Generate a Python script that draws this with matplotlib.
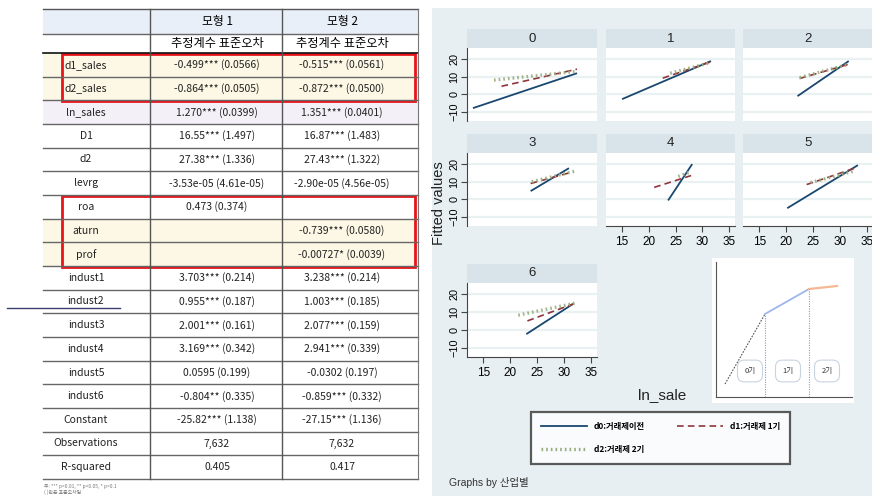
import matplotlib
matplotlib.use('Agg')
import matplotlib.pyplot as plt
from matplotlib.patches import Rectangle
from matplotlib.lines import Line2D

plt.rcParams['font.family'] = ['Noto Sans CJK KR', 'DejaVu Sans']

W, H = 872, 496
NARROW = ['Liberation Sans Narrow', 'Liberation Sans', 'Noto Sans CJK KR']

# ---------------- regression table ----------------
row_names = ['d1_sales', 'd2_sales', 'ln_sales', 'D1', 'd2', 'levrg', 'roa', 'aturn', 'prof',
             'indust1', 'indust2', 'indust3', 'indust4', 'indust5', 'indust6',
             'Constant', 'Observations', 'R-squared']
model1 = ['-0.499*** (0.0566)', '-0.864*** (0.0505)', '1.270*** (0.0399)', '16.55*** (1.497)',
          '27.38*** (1.336)', '-3.53e-05 (4.61e-05)', '0.473 (0.374)', '', '',
          '3.703*** (0.214)', '0.955*** (0.187)', '2.001*** (0.161)', '3.169*** (0.342)',
          '0.0595 (0.199)', '-0.804** (0.335)', '-25.82*** (1.138)', '7,632', '0.405']
model2 = ['-0.515*** (0.0561)', '-0.872*** (0.0500)', '1.351*** (0.0401)', '16.87*** (1.483)',
          '27.43*** (1.322)', '-2.90e-05 (4.56e-05)', '', '-0.739*** (0.0580)',
          '-0.00727* (0.0039)', '3.238*** (0.214)', '1.003*** (0.185)', '2.077*** (0.159)',
          '2.941*** (0.339)', '-0.0302 (0.197)', '-0.859*** (0.332)', '-27.15*** (1.136)',
          '7,632', '0.417']
model_titles = ['모형 1', '모형 2']
sub_title = '추정계수 표준오차'
yellow_rows = ['d1_sales', 'd2_sales', 'aturn', 'prof']
purple_rows = ['ln_sales']
boxed_groups = [['d1_sales', 'd2_sales'], ['roa', 'aturn', 'prof']]
footnotes = ['주: *** p<0.01, ** p<0.05, * p<0.1', '( )안은 표준오차임']

# ---------------- facet chart data ----------------
industries = ['0', '1', '2', '3', '4', '5', '6']
d0_x = [[13.1, 32.4], [15.0, 31.6], [22.1, 31.6], [23.8, 30.9], [23.6, 28.1], [20.2, 33.3], [23.0, 31.6]]
d0_y = [[-7.8, 12.0], [-2.7, 18.9], [-1.0, 18.9], [4.7, 17.7], [-0.6, 20.0], [-5.0, 19.4], [-2.3, 14.5]]
d1_x = [[18.4, 32.4], [22.6, 31.6], [22.5, 31.5], [23.8, 31.5], [21.0, 27.9], [23.8, 33.3], [23.2, 31.8]]
d1_y = [[4.6, 14.3], [9.2, 18.5], [9.0, 17.0], [9.0, 15.5], [6.8, 13.5], [8.4, 18.3], [5.1, 14.7]]
d2_x = [[17.0, 32.2], [24.0, 31.5], [22.5, 31.5], [24.0, 32.0], [25.5, 27.7], [24.5, 32.5], [21.5, 32.0]]
d2_y = [[8.1, 13.0], [12.0, 18.0], [9.5, 17.0], [10.0, 16.0], [13.0, 15.5], [9.5, 16.0], [8.3, 15.0]]
series_labels = ['d0:거래제이전', 'd1:거래제 1기', 'd2:거래제 2기']

# concept inset
concept_x = [9, 49, 93, 121]
concept_y = [13, 83, 108, 111]
period_labels = ['0기', '1기', '2기']
period_x = [34, 72, 111]

C_D0, C_D1, C_D2 = '#1a476f', '#90353b', '#98ad7e'
BG = '#e8eff2'
STRIP = '#d9e4ea'
GRID = '#eaf1f3'

fig = plt.figure(figsize=(W / 100, H / 100), dpi=100)
fig.patch.set_facecolor('white')


def px_axes(x0, y0, x1, y1, **kw):
    return fig.add_axes([x0 / W, 1 - y1 / H, (x1 - x0) / W, (y1 - y0) / H], **kw)


lay = px_axes(0, 0, W, H)
lay.set_xlim(0, W)
lay.set_ylim(H, 0)
lay.axis('off')

# ---- table
tx0, tx1 = 43, 418
col_lines = [150, 282]
label_cx, m1_cx, m2_cx = 86, 217, 342
top, head1, head2 = 9, 34, 53
row_h = (479 - head2) / len(row_names)

lay.add_patch(Rectangle((tx0, top), tx1 - tx0, head1 - top, color='#e9eff8', lw=0))
for i, name in enumerate(row_names):
    y0 = head2 + i * row_h
    if name in yellow_rows:
        lay.add_patch(Rectangle((tx0, y0), tx1 - tx0, row_h, color='#fdf8e5', lw=0))
    elif name in purple_rows:
        lay.add_patch(Rectangle((tx0, y0), tx1 - tx0, row_h, color='#f3f0f7', lw=0))
    yc = y0 + row_h / 2
    lay.text(label_cx, yc, name, ha='center', va='center', fontsize=7.5, color='#222222')
    lay.text(m1_cx, yc, model1[i], ha='center', va='center', fontsize=7.5, color='#222222')
    lay.text(m2_cx, yc, model2[i], ha='center', va='center', fontsize=7.5, color='#222222')
    lay.plot([tx0, tx1], [y0 + row_h, y0 + row_h], color='#666666', lw=1.0)

lay.plot([tx0, tx1], [top, top], color='#555555', lw=1.0)
lay.plot([tx0, tx1], [head1, head1], color='#666666', lw=1.0)
lay.plot([tx0, tx1], [head2, head2], color='#111111', lw=1.2)
for cx in col_lines:
    lay.plot([cx, cx], [top, 479], color='#555555', lw=1.0)
lay.plot([tx1, tx1], [top, 479], color='#777777', lw=0.8)
for cx, title in zip([m1_cx, m2_cx], model_titles):
    lay.text(cx, (top + head1) / 2, title, ha='center', va='center', fontsize=8.5)
    lay.text(cx, (head1 + head2) / 2, sub_title, ha='center', va='center', fontsize=8.8)

for grp in boxed_groups:
    i0 = row_names.index(grp[0])
    i1 = row_names.index(grp[-1])
    y0 = head2 + i0 * row_h
    y1 = head2 + (i1 + 1) * row_h
    lay.add_patch(Rectangle((62, y0 + 1), 353, y1 - y0, fill=False, edgecolor='#e8141a', lw=2.0))

lay.text(44, 486, footnotes[0], fontsize=3.5, color='#777777', va='center')
lay.text(44, 492, footnotes[1], fontsize=3.5, color='#777777', va='center')
lay.plot([7, 120], [308, 308], color='#3b3f70', lw=1.0)

# ---- right graph background
lay.add_patch(Rectangle((432, 8), W - 432, H - 8, color=BG, lw=0))
# inset white card
lay.add_patch(Rectangle((712, 258), 142, 145, color='white', lw=0))

cols_x = [(467, 597), (606, 735), (743, 873)]
rows_y = [(48, 121), (153, 226), (283, 357)]
strip_h = 19

for k, ind in enumerate(industries):
    r, c = divmod(k, 3)
    x0, x1 = cols_x[c]
    y0, y1 = rows_y[r]
    st = px_axes(x0, y0 - strip_h, x1, y0)
    st.set_facecolor(STRIP)
    st.set_xticks([])
    st.set_yticks([])
    for s in st.spines.values():
        s.set_visible(False)
    st.text(0.5, 0.5, ind, ha='center', va='center', fontsize=9.5, family=NARROW,
            transform=st.transAxes, color='#222222')

    ax = px_axes(x0, y0, x1, y1)
    ax.set_facecolor('white')
    ax.plot(d0_x[k], d0_y[k], color=C_D0, lw=1.3, solid_capstyle='butt')
    ax.plot(d1_x[k], d1_y[k], color=C_D1, lw=1.2, dashes=(4, 2.5))
    ax.plot(d2_x[k], d2_y[k], color=C_D2, lw=2.4, dashes=(0.5, 0.9), alpha=0.9)
    ax.set_xlim(12, 36.1)
    ax.set_ylim(-15.1, 26.3)
    ax.set_yticks([-10, 0, 10, 20])
    ax.set_xticks([15, 20, 25, 30, 35])
    ax.grid(axis='y', color=GRID, lw=1.6)
    ax.set_axisbelow(True)
    for s in ax.spines.values():
        s.set_visible(False)
    ax.tick_params(length=4, width=0.8, color='#444444', labelsize=8.5)
    ax.tick_params(axis='y', labelsize=7.8, pad=1.5)
    bottom_panel = (k + 3 >= len(industries))
    if c == 0:
        ax.spines['left'].set_visible(True)
        ax.spines['left'].set_color('#444444')
        for lbl in ax.get_yticklabels():
            lbl.set_rotation(90)
            lbl.set_va('center')
            lbl.set_family(NARROW)
    else:
        ax.tick_params(axis='y', left=False, labelleft=False)
    if bottom_panel:
        ax.spines['bottom'].set_visible(True)
        ax.spines['bottom'].set_color('#444444')
        for lbl in ax.get_xticklabels():
            lbl.set_family(NARROW)
    else:
        ax.tick_params(axis='x', bottom=False, labelbottom=False)

lay.text(439, 203, 'Fitted values', rotation=90, ha='center', va='center',
         fontsize=10.5, family=NARROW, color='#222222')
lay.text(662, 395, 'ln_sale', ha='center', va='center', fontsize=11,
         family=NARROW, color='#222222')
lay.text(449, 482, 'Graphs by 산업별', ha='left', va='center', fontsize=7.5,
         family=NARROW, color='#333333')

# ---- legend
h0 = Line2D([], [], color=C_D0, lw=1.3)
h1 = Line2D([], [], color=C_D1, lw=1.2, dashes=(4, 2.5))
h2 = Line2D([], [], color=C_D2, lw=2.4, dashes=(0.5, 0.9))
leg = fig.legend(handles=[h0, h2, h1],
                 labels=[series_labels[0], series_labels[2], series_labels[1]],
                 ncol=2, loc='center', mode='expand',
                 bbox_to_anchor=(527 / W, 1 - 467 / H, 267 / W, 58 / H),
                 frameon=True, fancybox=False, edgecolor='#333333',
                 prop={'size': 6, 'weight': 'bold'}, handlelength=5.5,
                 labelspacing=1.6, borderpad=1.2, handletextpad=0.8)
leg.get_frame().set_linewidth(1.6)

# ---- concept inset
ins = px_axes(716, 262, 852, 397)
ins.set_xlim(0, 136)
ins.set_ylim(0, 135)
ins.set_facecolor('white')
ins.set_xticks([])
ins.set_yticks([])
ins.spines['top'].set_visible(False)
ins.spines['right'].set_visible(False)
ins.spines['left'].set_color('#555555')
ins.spines['bottom'].set_color('#555555')
seg_styles = [dict(color='#555555', lw=0.8, ls=(0, (1.5, 1.2))),
              dict(color='#9fb6ea', lw=1.3),
              dict(color='#f6b894', lw=1.6)]
for i in range(3):
    ins.plot(concept_x[i:i + 2], concept_y[i:i + 2], **seg_styles[i])
for i in (1, 2):
    ins.plot([concept_x[i], concept_x[i]], [0, concept_y[i]], color='#7f9be0',
             lw=0.8, ls=(0, (1, 1.2)))
for lbl, px in zip(period_labels, period_x):
    ins.text(px, 26, lbl, ha='center', va='center', fontsize=5.5, color='#333333',
             bbox=dict(boxstyle='round,pad=0.9', fc='white', ec='#c8d4e2', lw=0.8))

fig.savefig('out.png', dpi=100, facecolor='white')
